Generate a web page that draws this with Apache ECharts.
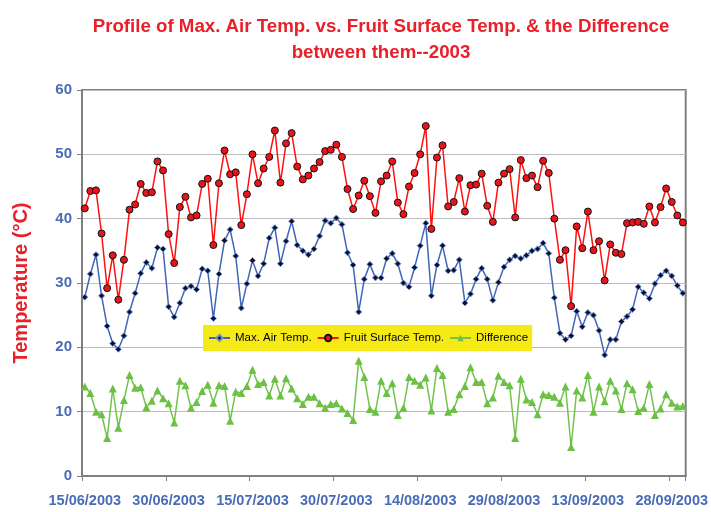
<!DOCTYPE html>
<html>
<head>
<meta charset="utf-8">
<script src="https://cdn.jsdelivr.net/npm/echarts@6/dist/echarts.min.js"></script>
<style>
  html, body { margin: 0; padding: 0; background: #fff; }
  #chart { width: 711px; height: 512px; }
</style>
</head>
<body>
<div id="chart"></div>
<script>
// 15/06/2003 .. 30/09/2003, one point per day
var startDay = 15
var monthDays = [[6, 30], [7, 31], [8, 31], [9, 30]]

var maxAirTemp = [
  27.8, 31.4, 34.4, 28.0, 23.3, 20.6, 19.7, 21.8, 25.5, 28.4,
  31.5, 33.2, 32.3, 35.5, 35.3, 26.3, 24.7, 26.9, 29.2, 29.5,
  29.0, 32.2, 31.9, 24.5, 31.4, 36.6, 38.3, 34.2, 26.1, 29.9,
  33.5, 31.1, 33.0, 37.0, 38.6, 33.0, 36.5, 39.6, 35.9, 35.0,
  34.4, 35.3, 37.3, 39.7, 39.3, 40.1, 39.1, 34.7, 32.8, 25.5,
  30.6, 32.9, 30.8, 30.8, 33.8, 34.6, 33.0, 30.0, 29.4, 32.4,
  35.8, 39.3, 28.0, 32.8, 35.8, 31.9, 32.0, 33.6, 26.9, 28.3,
  30.6, 32.3, 30.6, 27.3, 30.1, 32.5, 33.6, 34.2, 33.8, 34.3,
  35.0, 35.3, 36.2, 34.6, 27.7, 22.2, 21.2, 21.8, 25.6, 23.2,
  25.4, 25.0, 22.6, 18.8, 21.2, 21.2, 24.0, 24.8, 25.9, 29.4,
  28.5, 27.6, 29.9, 31.2, 31.9, 31.1, 29.6, 28.4
]

var fruitSurfaceTemp = [
  41.6, 44.3, 44.4, 37.7, 29.2, 34.3, 27.4, 33.6, 41.4, 42.2,
  45.4, 44.0, 44.1, 48.9, 47.5, 37.6, 33.1, 41.8, 43.4, 40.2,
  40.5, 45.4, 46.2, 35.9, 45.5, 50.6, 46.9, 47.2, 39.0, 43.8,
  50.0, 45.5, 47.8, 49.6, 53.7, 45.6, 51.7, 53.3, 48.1, 46.1,
  46.7, 47.8, 48.8, 50.5, 50.7, 51.5, 49.6, 44.6, 41.5, 43.6,
  45.9, 43.5, 40.9, 45.8, 46.7, 48.9, 42.5, 40.7, 45.0, 47.1,
  50.0, 54.4, 38.4, 49.5, 51.4, 41.9, 42.6, 46.3, 41.1, 45.2,
  45.3, 47.0, 42.0, 39.5, 45.6, 47.0, 47.7, 40.2, 49.1, 46.3,
  46.7, 44.9, 49.0, 47.1, 40.0, 33.6, 35.1, 26.4, 38.8, 35.4,
  41.1, 35.1, 36.5, 30.4, 36.0, 34.7, 34.5, 39.3, 39.4, 39.5,
  39.2, 41.9, 39.4, 41.8, 44.7, 42.6, 40.5, 39.4
]

var difference = [
  13.9, 12.9, 10.0, 9.6, 5.9, 13.6, 7.5, 11.8, 15.7, 13.7,
  13.8, 10.7, 11.7, 13.3, 12.1, 11.3, 8.3, 14.8, 14.1, 10.6,
  11.5, 13.2, 14.2, 11.4, 14.1, 14.0, 8.6, 13.1, 12.9, 14.0,
  16.5, 14.3, 14.6, 12.5, 15.1, 12.5, 15.2, 13.6, 12.1, 11.2,
  12.3, 12.3, 11.3, 10.6, 11.2, 11.3, 10.5, 9.8, 8.7, 17.9,
  15.4, 10.4, 10.0, 14.8, 12.9, 14.4, 9.5, 10.6, 15.4, 14.8,
  14.2, 15.3, 10.2, 16.8, 15.7, 10.0, 10.4, 12.7, 14.0, 16.9,
  14.6, 14.6, 11.3, 12.2, 15.6, 14.6, 14.1, 5.9, 15.1, 11.9,
  11.5, 9.6, 12.7, 12.6, 12.3, 11.4, 13.9, 4.5, 13.3, 12.2,
  15.7, 10.0, 13.9, 11.6, 14.8, 13.3, 10.4, 14.4, 13.5, 10.1,
  10.6, 14.3, 9.5, 10.5, 12.7, 11.4, 10.8, 10.9
]

var seriesNames = ['Max. Air Temp.', 'Fruit Surface Temp.', 'Difference']

var dates = []
monthDays.forEach(function (m, k) {
  for (var d = (k === 0 ? startDay : 1); d <= m[1]; d++) {
    dates.push((d < 10 ? '0' : '') + d + '/0' + m[0] + '/2003')
  }
})

var blueText = '#4a6cb4'
var axisGray = '#808080'

var chart = echarts.init(document.getElementById('chart'))
var option = {
  animation: false,
  title: {
    text: 'Profile of Max. Air Temp. vs. Fruit Surface Temp. & the Difference\nbetween them--2003',
    left: 376,
    top: 9,
    textAlign: 'center',
    textStyle: {
      color: '#e8202a',
      fontFamily: 'Liberation Sans Narrow, Liberation Sans, Arial',
      fontWeight: 'bold',
      fontSize: 18.7,
      lineHeight: 26
    }
  },
  legend: {
    data: seriesNames,
    orient: 'horizontal',
    left: 203,
    top: 325,
    backgroundColor: '#f6ea16',
    borderRadius: 0,
    padding: [7, 4, 7, 5],
    itemWidth: 21,
    itemHeight: 8,
    itemGap: 5,
    textStyle: {
      color: '#000',
      fontSize: 11.5,
      fontFamily: 'Liberation Sans, Arial'
    }
  },
  grid: {
    left: 82,
    right: 24,
    top: 90,
    bottom: 36,
    show: true,
    borderColor: axisGray,
    borderWidth: 2
  },
  xAxis: {
    type: 'category',
    data: dates,
    boundaryGap: true,
    axisLine: { show: true, lineStyle: { color: axisGray, width: 2 } },
    axisTick: { show: true, interval: 14, length: 5, lineStyle: { color: axisGray, width: 1 } },
    axisLabel: {
      interval: 14,
      color: blueText,
      fontWeight: 'bold',
      fontSize: 14.5,
      fontFamily: 'Liberation Sans, Arial',
      margin: 17
    },
    splitLine: { show: false }
  },
  yAxis: {
    type: 'value',
    min: 0,
    max: 60,
    interval: 10,
    name: 'Temperature (°C)',
    nameLocation: 'middle',
    nameGap: 51,
    nameTextStyle: {
      color: '#e8202a',
      fontWeight: 'bold',
      fontSize: 20,
      fontFamily: 'Liberation Sans, Arial'
    },
    axisLine: { show: true, lineStyle: { color: axisGray, width: 2 } },
    axisTick: { show: true, length: 5, lineStyle: { color: axisGray } },
    axisLabel: {
      color: blueText,
      fontWeight: 'bold',
      fontSize: 15,
      fontFamily: 'Liberation Sans, Arial',
      margin: 10
    },
    splitLine: { show: true, lineStyle: { color: '#bdbdbd', width: 1 } }
  },
  series: [
    {
      name: seriesNames[0],
      type: 'line',
      data: maxAirTemp,
      showAllSymbol: true,
      symbol: 'diamond',
      symbolSize: 6,
      lineStyle: { color: '#4166b8', width: 1.5 },
      itemStyle: { color: '#0c1030', borderColor: '#6e8fd0', borderWidth: 1 }
    },
    {
      name: seriesNames[1],
      type: 'line',
      data: fruitSurfaceTemp,
      showAllSymbol: true,
      symbol: 'circle',
      symbolSize: 7,
      lineStyle: { color: '#ff1010', width: 1.5 },
      itemStyle: { color: '#e8141b', borderColor: '#111', borderWidth: 1 }
    },
    {
      name: seriesNames[2],
      type: 'line',
      data: difference,
      showAllSymbol: true,
      symbol: 'triangle',
      symbolSize: 8,
      lineStyle: { color: '#72c24e', width: 1.5 },
      itemStyle: { color: '#6cc044', borderColor: '#6cc044', borderWidth: 0 }
    }
  ]
}
chart.setOption(option)
window.addEventListener('resize', function () {
  chart.resize()
})
</script>
</body>
</html>
